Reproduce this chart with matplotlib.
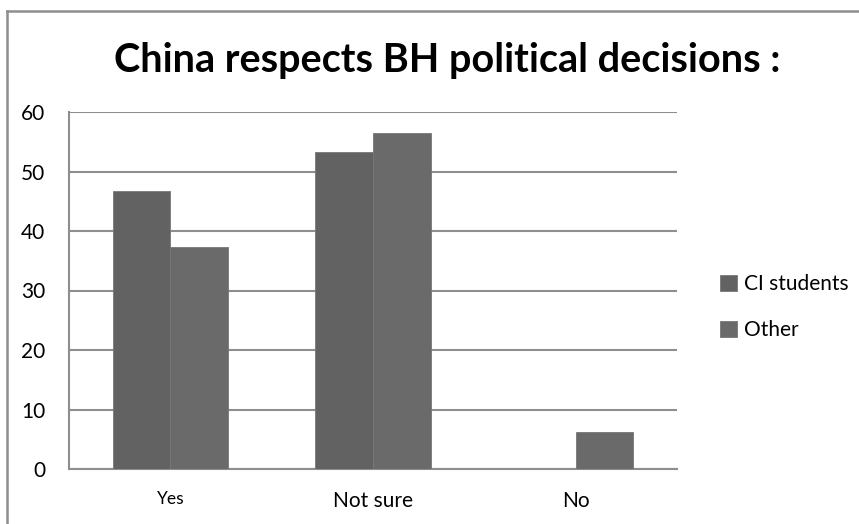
import matplotlib.pyplot as plt
from matplotlib.lines import Line2D
import numpy as np

categories = ['Yes', 'Not sure', 'No']
ci_students = [46.7, 53.3, 0]
other = [37.3, 56.5, 6.2]
yticks = [0, 10, 20, 30, 40, 50, 60]

W, H = 859, 524
plt.rcParams['font.family'] = ['Lato', 'DejaVu Sans']

fig = plt.figure(figsize=(W / 100, H / 100), dpi=100)
ax = fig.add_axes([69 / W, 55 / H, (677 - 69) / W, (469 - 112) / H])

x = np.arange(len(categories))
w = 0.284
ax.bar(x - w / 2, ci_students, w, color='#626262', edgecolor='#777777', linewidth=0.6,
       label='CI students', zorder=3)
ax.bar(x + w / 2, other, w, color='#6a6a6a', edgecolor='#777777', linewidth=0.6,
       label='Other', zorder=3)

ax.set_xlim(-0.5, 2.5)
ax.set_ylim(0, 60)
ax.set_yticks(yticks)
ax.set_yticklabels([str(t) for t in yticks], fontsize=15)
ax.set_xticks(x)
ax.set_xticklabels(categories)
for lbl, fs in zip(ax.get_xticklabels(), [12.5, 15, 15]):
    lbl.set_fontsize(fs)
ax.tick_params(axis='y', length=0, pad=17)
ax.tick_params(axis='x', length=0, pad=16)
ax.grid(axis='y', color='#8e8e8e', linewidth=1.5, zorder=0)
for s in ['top', 'right']:
    ax.spines[s].set_visible(False)
for s in ['left', 'bottom']:
    ax.spines[s].set_color('#8e8e8e')
    ax.spines[s].set_linewidth(1.5)

ax.legend(loc='center left', bbox_to_anchor=(712 / W, 1 - 307 / H),
          bbox_transform=fig.transFigure, frameon=False, fontsize=15,
          handlelength=0.8, handleheight=0.8, handletextpad=0.35,
          labelspacing=1.25, borderaxespad=0)

fig.text(447 / W, 1 - 61 / H, 'China respects BH political decisions :',
         ha='center', va='center', fontsize=28.5, fontweight='bold')

# outer chart frame
fig.add_artist(Line2D([7 / W, 7 / W], [0, 1 - 11 / H], color='#8e8e8e', lw=1.8,
                      transform=fig.transFigure))
fig.add_artist(Line2D([7 / W, 1], [1 - 11 / H, 1 - 11 / H], color='#8e8e8e', lw=1.8,
                      transform=fig.transFigure))

fig.savefig('out.png', dpi=100)
